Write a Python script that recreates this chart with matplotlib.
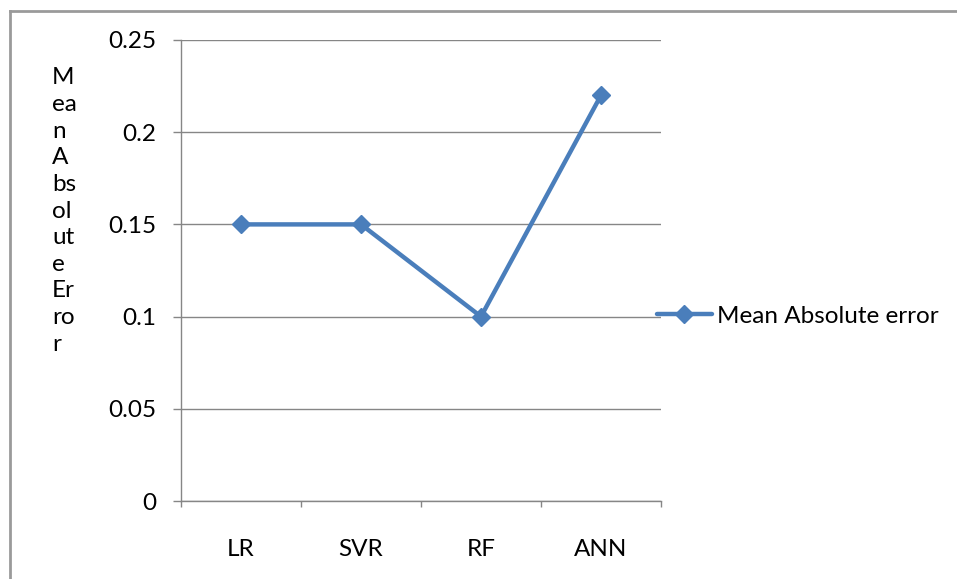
import matplotlib
matplotlib.use("Agg")
import matplotlib.pyplot as plt
from matplotlib.lines import Line2D
import numpy as np

models = ["LR", "SVR", "RF", "ANN"]
mae = [0.15, 0.15, 0.10, 0.22]
y_ticks = [0, 0.05, 0.1, 0.15, 0.2, 0.25]
y_tick_labels = ["0", "0.05", "0.1", "0.15", "0.2", "0.25"]
series_name = "Mean Absolute error"
y_title = "M\nea\nn\nA\nbs\nol\nut\ne\nEr\nro\nr"

plt.rcParams["font.family"] = ["Lato", "DejaVu Sans"]
FS = 17.5
GRID = "#868686"
BLUE = "#4A7EBB"

W, H = 957, 579
fig = plt.figure(figsize=(W / 100, H / 100), dpi=100)
ax = fig.add_axes([181 / W, 1 - 501 / H, (661 - 181) / W, (501 - 40) / H])

x = np.arange(len(models))
ax.plot(x, mae, color=BLUE, lw=3.2, marker="D", ms=9.5, mfc=BLUE, mec=BLUE,
        label=series_name, solid_capstyle="round", zorder=3)

ax.set_xlim(-0.5, len(models) - 0.5)
ax.set_ylim(0, 0.25)
ax.set_yticks(y_ticks)
ax.set_yticklabels(y_tick_labels, fontsize=FS)
ax.yaxis.grid(True, color=GRID, lw=1)
ax.set_axisbelow(True)

ax.set_xticks(x)
ax.set_xticklabels(models, fontsize=FS)
ax.set_xticks(np.arange(-0.5, len(models)), minor=True)
ax.tick_params(axis="x", which="major", length=0, pad=27)
ax.tick_params(axis="x", which="minor", length=4, color=GRID, width=1, direction="out")
ax.tick_params(axis="y", length=6, color=GRID, width=1, pad=12, direction="out")

for side in ("top", "right"):
    ax.spines[side].set_visible(False)
for side in ("left", "bottom"):
    ax.spines[side].set_color(GRID)
    ax.spines[side].set_linewidth(1)

fig.text(52 / W, 1 - 211 / H, y_title, fontsize=FS, ha="left", va="center",
         linespacing=1.33)

ax.legend(loc="center left", bbox_to_anchor=(657 / W, 1 - 316 / H),
          bbox_transform=fig.transFigure, frameon=False, fontsize=FS,
          handlelength=2.25, handletextpad=0.2, borderaxespad=0, borderpad=0)

# chart frame (top and left edges inside the canvas)
fig.add_artist(Line2D([10 / W, 10 / W], [0, 1 - 11 / H], transform=fig.transFigure,
                      color="#9A9A9A", lw=2))
fig.add_artist(Line2D([10 / W, 1], [1 - 11 / H, 1 - 11 / H], transform=fig.transFigure,
                      color="#9A9A9A", lw=2))

fig.savefig("out.png", dpi=100)
